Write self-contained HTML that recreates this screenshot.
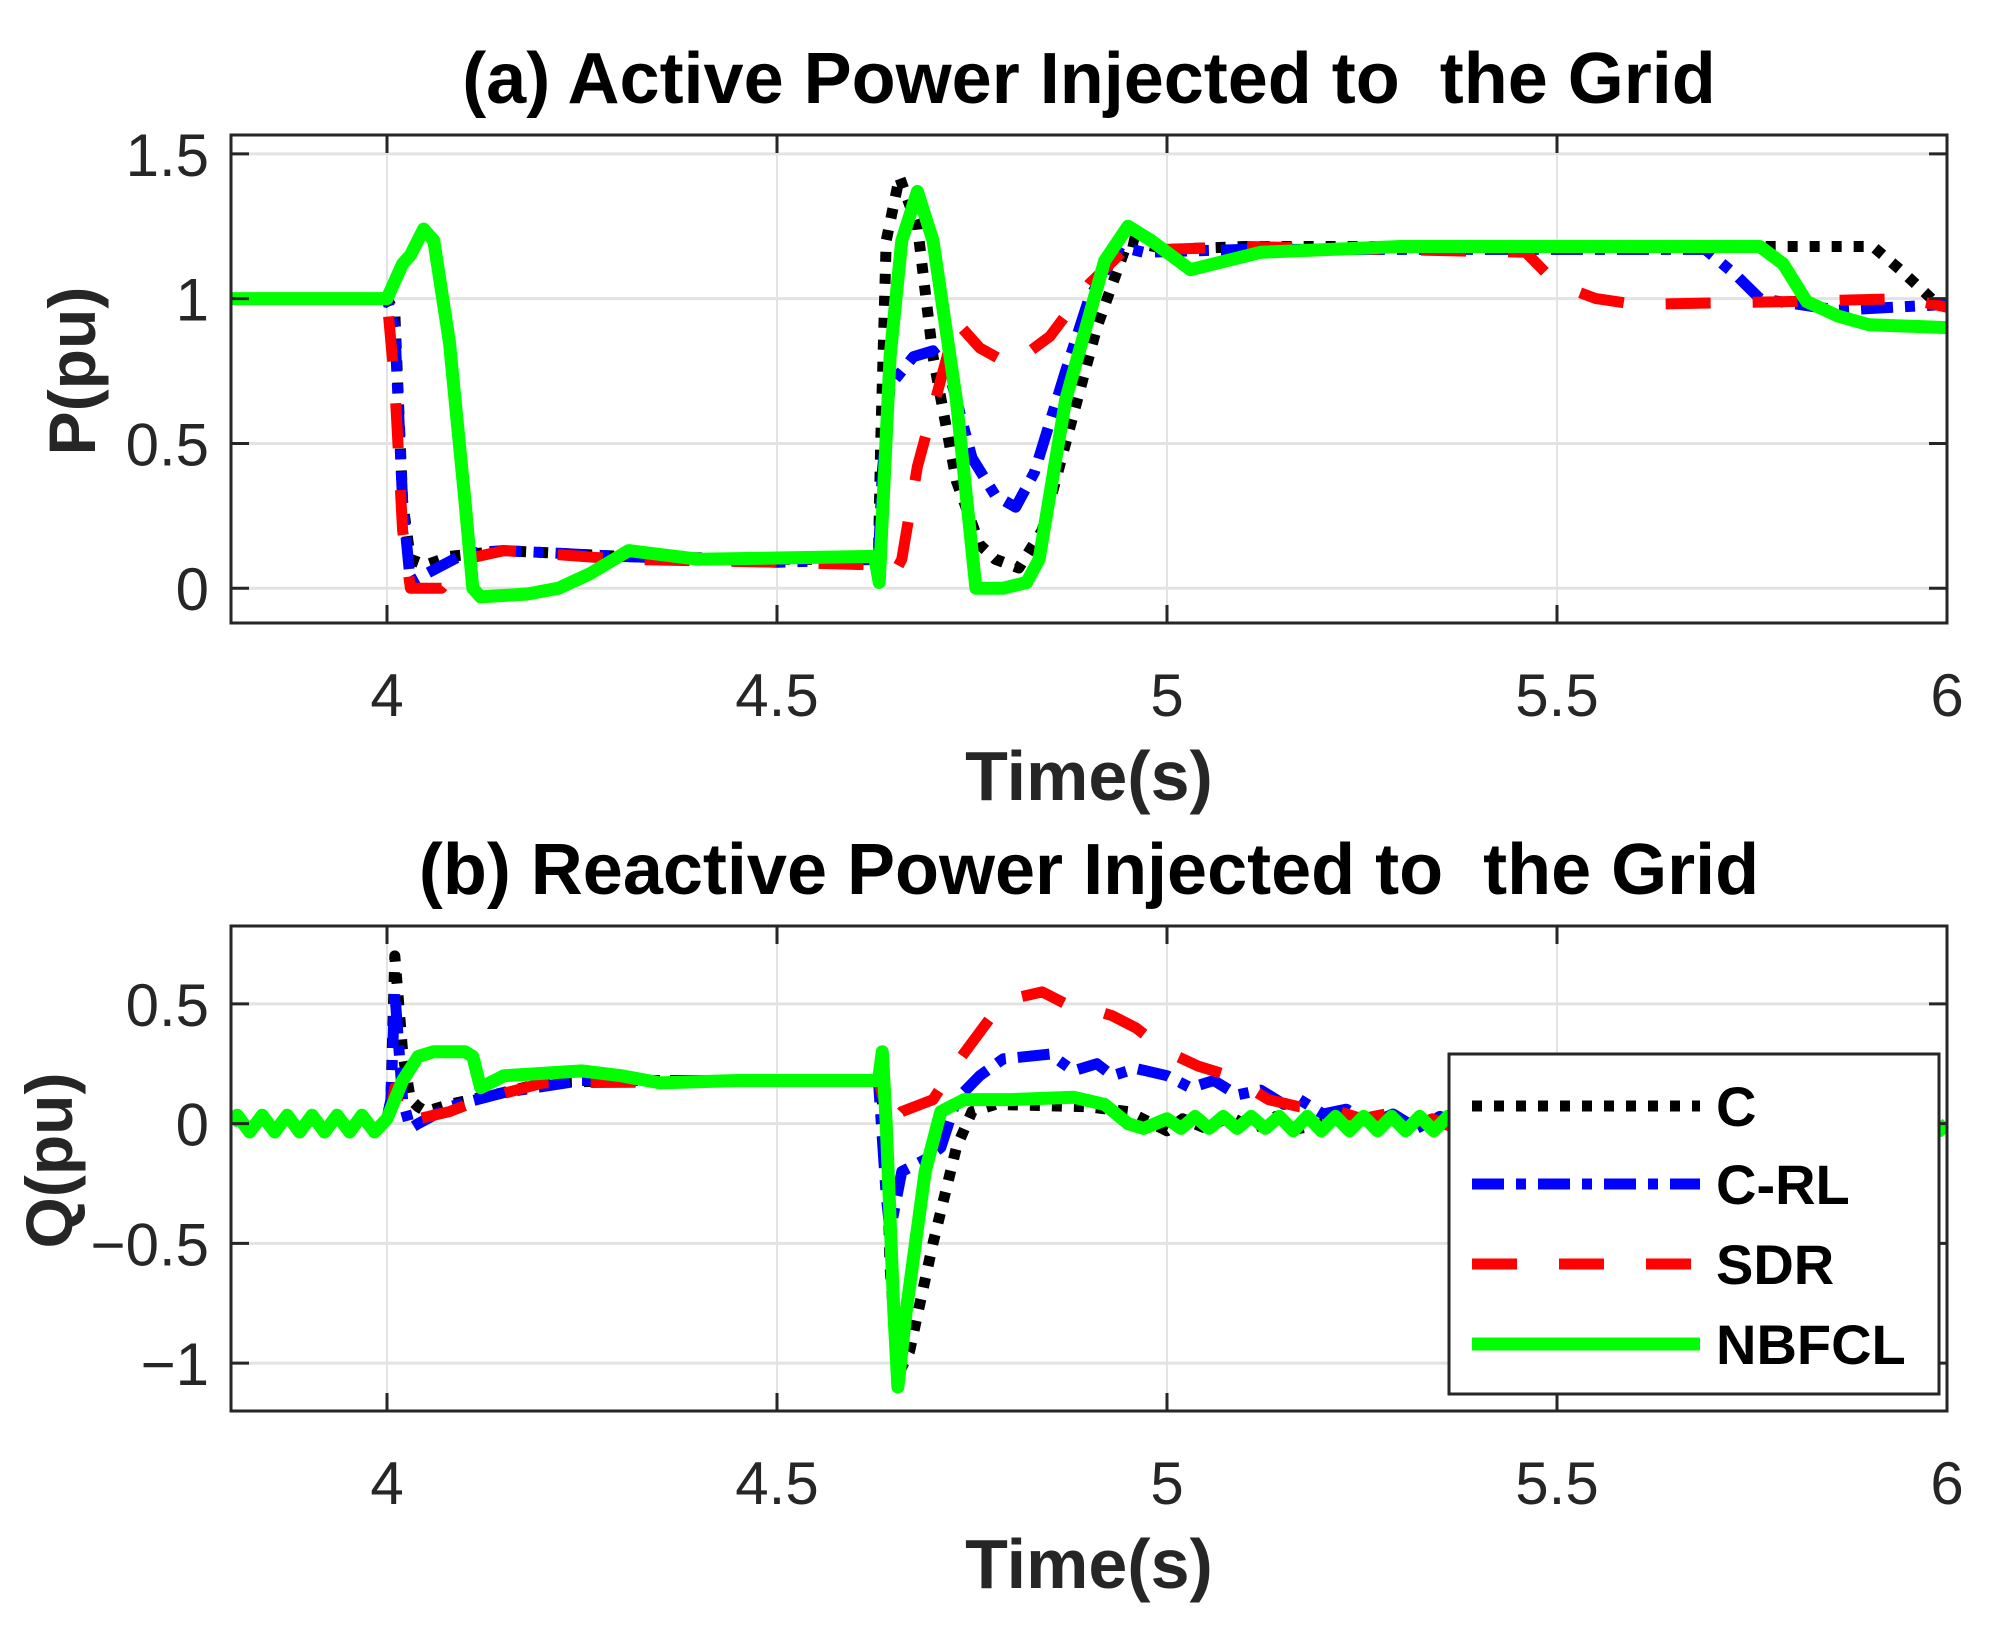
<!DOCTYPE html>
<html><head><meta charset="utf-8"><style>
html,body{margin:0;padding:0;background:#fff;}
svg{display:block;}
text{font-family:"Liberation Sans",Arial,sans-serif;}
.pre{white-space:pre;}
</style></head><body>
<svg id="chart" width="2015" height="1647" viewBox="0 0 2015 1647" xmlns="http://www.w3.org/2000/svg">
<defs>
<clipPath id="clipA"><rect x="231" y="135" width="1716" height="488"/></clipPath>
<clipPath id="clipB"><rect x="231" y="926" width="1716" height="485"/></clipPath>
</defs>
<g id="panelA"></g>
<g id="panelB"></g>
</svg>
<script>
// ---------- data ----------
const xTicks = [4, 4.5, 5, 5.5, 6];
const xTickLabels = ["4", "4.5", "5", "5.5", "6"];
const pTicks = [0, 0.5, 1, 1.5];
const pTickLabels = ["0", "0.5", "1", "1.5"];
const qTicks = [-1, -0.5, 0, 0.5];
const qTickLabels = ["\u22121", "\u22120.5", "0", "0.5"];
const seriesNames = ["C", "C-RL", "SDR", "NBFCL"];

// Panel (a) active power
const pC_t = [3.8,4.0,4.01,4.02,4.03,4.05,4.08,4.15,4.3,4.5,4.63,4.633,4.64,4.657,4.68,4.70,4.73,4.76,4.78,4.81,4.84,4.86,4.91,4.95,5.0,5.1,5.905,5.94,5.98,6.0];
const pC_v = [1,1,0.95,0.3,0.1,0.08,0.11,0.13,0.11,0.1,0.1,0.5,1.2,1.42,1.25,0.8,0.37,0.15,0.1,0.07,0.2,0.4,0.9,1.2,1.17,1.18,1.18,1.1,1.0,0.97];
const pCRL_t = [3.8,4.0,4.01,4.02,4.03,4.05,4.1,4.15,4.3,4.5,4.63,4.635,4.645,4.675,4.70,4.72,4.75,4.78,4.806,4.83,4.87,4.9,4.94,4.97,5.1,5.69,5.73,5.76,5.86,6.0];
const pCRL_v = [1,1,0.9,0.3,0.02,0.05,0.12,0.13,0.11,0.09,0.1,0.4,0.7,0.8,0.82,0.75,0.45,0.32,0.28,0.4,0.75,1.0,1.18,1.16,1.17,1.17,1.08,1.0,0.96,0.98];
const pSDR_t = [3.8,4.0,4.01,4.02,4.03,4.07,4.1,4.15,4.3,4.5,4.63,4.65,4.66,4.68,4.73,4.76,4.8,4.85,4.9,4.95,5.0,5.1,5.46,5.5,5.55,5.6,5.8,5.95,6.0];
const pSDR_v = [1,1,0.7,0.2,0.0,0.0,0.1,0.13,0.1,0.09,0.08,0.05,0.1,0.42,0.92,0.83,0.77,0.87,1.05,1.18,1.17,1.18,1.16,1.05,1.0,0.98,0.99,1.0,0.97];
const pN_t = [3.8,4.0,4.02,4.03,4.047,4.06,4.08,4.1,4.11,4.12,4.18,4.22,4.26,4.31,4.4,4.625,4.631,4.645,4.66,4.68,4.70,4.73,4.755,4.79,4.82,4.836,4.87,4.92,4.95,4.98,5.0,5.03,5.12,5.3,5.76,5.79,5.82,5.86,5.9,6.0];
const pN_v = [1,1,1.12,1.15,1.24,1.2,0.85,0.3,0.0,-0.03,-0.02,0.0,0.05,0.13,0.1,0.11,0.02,0.8,1.2,1.37,1.2,0.65,0.0,0.0,0.02,0.1,0.65,1.13,1.25,1.2,1.16,1.1,1.16,1.18,1.18,1.12,0.99,0.94,0.91,0.9];

// Panel (b) reactive power
const qPre_t = [3.8,3.808,3.824,3.84,3.856,3.872,3.888,3.904,3.92,3.936,3.952,3.968,3.984,4.0];
const qPre_v = [0,0.035,-0.035,0.035,-0.035,0.035,-0.035,0.035,-0.035,0.035,-0.035,0.035,-0.035,0.02];
const qC_t = [4.005,4.01,4.02,4.03,4.04,4.05,4.08,4.15,4.2,4.3,4.63,4.64,4.645,4.655,4.67,4.7,4.73,4.75,4.78,4.9,4.95,5.0,5.02,5.05,5.08,5.11,5.14,5.17,5.2];
const qC_v = [0.1,0.7,0.3,0.1,0.07,0.05,0.08,0.13,0.17,0.18,0.18,0.0,-0.6,-1.05,-0.95,-0.5,-0.1,0.05,0.08,0.07,0.05,-0.03,0.02,-0.02,0.03,-0.02,0.03,-0.02,0.0];
const qCRL_t = [4.005,4.01,4.02,4.03,4.04,4.08,4.15,4.25,4.63,4.64,4.645,4.66,4.69,4.71,4.73,4.76,4.79,4.85,4.88,4.91,4.93,4.96,5.0,5.03,5.06,5.09,5.12,5.15,5.17,5.2,5.23,5.26,5.29,5.32,5.35,5.38];
const qCRL_v = [0.1,0.55,0.1,-0.02,0.0,0.07,0.13,0.18,0.18,-0.3,-0.45,-0.2,-0.15,-0.1,0.1,0.2,0.27,0.29,0.22,0.25,0.2,0.23,0.2,0.15,0.18,0.12,0.14,0.08,0.1,0.04,0.06,0.0,0.04,-0.02,0.03,-0.02];
const qSDR_t = [4.005,4.01,4.02,4.04,4.08,4.12,4.2,4.63,4.645,4.66,4.7,4.73,4.78,4.8,4.84,4.87,4.9,4.93,4.96,5.0,5.04,5.08,5.13,5.17,5.21,5.25,5.28,5.31,5.34,5.37];
const qSDR_v = [0.05,0.15,0.0,0.02,0.05,0.1,0.17,0.18,0.0,0.05,0.1,0.25,0.47,0.52,0.55,0.5,0.48,0.45,0.4,0.3,0.24,0.2,0.1,0.07,0.06,0.02,0.04,-0.02,0.02,-0.02];
const qN_t = [4.02,4.04,4.06,4.1,4.11,4.12,4.15,4.25,4.3,4.35,4.45,4.63,4.635,4.64,4.65,4.655,4.665,4.69,4.71,4.74,4.8,4.88,4.92,4.95,4.97,5.0,5.018,5.036,5.054,5.072,5.09,5.108,5.126,5.144,5.162,5.18,5.198,5.216,5.234,5.252,5.27,5.288,5.306,5.324,5.342,5.36,5.378,5.396,5.414,5.432,5.45,5.468,5.486,5.504,5.522,5.54,5.558,5.576,5.594,5.612,5.63,5.648,5.666,5.684,5.702,5.72,5.738,5.756,5.774,5.792,5.81,5.828,5.846,5.864,5.882,5.9,5.918,5.936,5.954,5.972,5.99,6.0];
const qN_v = [0.18,0.28,0.3,0.3,0.28,0.15,0.2,0.22,0.2,0.17,0.18,0.18,0.3,0.0,-0.8,-1.1,-0.8,-0.2,0.05,0.1,0.1,0.11,0.08,0.0,-0.02,0.02,-0.02,0.03,-0.02,0.03,-0.02,0.03,-0.02,0.03,-0.03,0.03,-0.03,0.03,-0.03,0.03,-0.03,0.03,-0.03,0.03,-0.03,0.03,-0.03,0.03,-0.03,0.03,-0.03,0.03,-0.03,0.03,-0.03,0.03,-0.03,0.03,-0.03,0.03,-0.03,0.03,-0.03,0.03,-0.03,0.03,-0.03,0.03,-0.03,0.03,-0.03,0.03,-0.03,0.03,-0.03,0.03,-0.03,0.03,-0.03,0.03,-0.03,0.0];

// ---------- drawing ----------
const NS = "http://www.w3.org/2000/svg";
function mk(tag, attrs, parent){ const e=document.createElementNS(NS,tag); for(const k in attrs) e.setAttribute(k,attrs[k]); parent.appendChild(e); return e; }

const L=231, R=1947, XMIN=3.8, XMAX=6.0;
function xs(t){ return L + (t-XMIN)/(XMAX-XMIN)*(R-L); }

const styles = [
  {color:"#000000", dash:"10 12", w:11},
  {color:"#0000ff", dash:"32 12 10 12", w:11},
  {color:"#ff0000", dash:"45 42", w:11},
  {color:"#00ff00", dash:"none", w:13}
];

function panel(g, top, bottom, ymin, ymax, yT, yTL, series, clip, title, ylab, ylabX, ids){
  const ys = v => bottom - (v-ymin)/(ymax-ymin)*(bottom-top);
  xTicks.forEach(t=>{ if(t<XMAX){ const l=mk("line",{x1:xs(t),x2:xs(t),y1:top,y2:bottom,stroke:"#e3e3e3","stroke-width":2},g);
      }});
  yT.forEach(v=>{ const l=mk("line",{x1:L,x2:R,y1:ys(v),y2:ys(v),stroke:"#e3e3e3","stroke-width":3},g);
      });
  const sg = mk("g",{"clip-path":"url(#"+clip+")"},g);
  series.forEach((s,i)=>{
    const d = s.t.map((t,j)=>(j?"L":"M")+xs(t).toFixed(1)+","+ys(s.v[j]).toFixed(1)).join("");
    const p = mk("path",{d:d,fill:"none",stroke:styles[i].color,"stroke-width":styles[i].w,"stroke-dasharray":styles[i].dash,"stroke-linejoin":"round"},sg);
    
    
  });
  const box = mk("rect",{x:L,y:top,width:R-L,height:bottom-top,fill:"none",stroke:"#262626","stroke-width":3},g);
   
  xTicks.forEach((t,i)=>{
    mk("line",{x1:xs(t),x2:xs(t),y1:bottom,y2:bottom-18,stroke:"#262626","stroke-width":3},g);
    mk("line",{x1:xs(t),x2:xs(t),y1:top,y2:top+18,stroke:"#262626","stroke-width":3},g);
    const tx=mk("text",{x:xs(t),y:bottom+93,"font-size":60,"text-anchor":"middle",fill:"#262626"},g);
    tx.textContent=xTickLabels[i];
     
  });
  yT.forEach((v,i)=>{
    mk("line",{x1:L,x2:L+18,y1:ys(v),y2:ys(v),stroke:"#262626","stroke-width":3},g);
    mk("line",{x1:R,x2:R-18,y1:ys(v),y2:ys(v),stroke:"#262626","stroke-width":3},g);
    const tx=mk("text",{x:L-22,y:ys(v)+22,"font-size":60,"text-anchor":"end",fill:"#262626"},g);
    tx.textContent=yTL[i];
     
  });
  const tt=mk("text",{x:(L+R)/2,y:top-32,"font-size":72,"font-weight":"bold","text-anchor":"middle",fill:"#000","class":"pre"},g);
  tt.textContent=title;
   
  const xl=mk("text",{x:(L+R)/2,y:bottom+177,"font-size":70,"font-weight":"bold","text-anchor":"middle",fill:"#262626"},g);
  xl.textContent="Time(s)";
   
  const cy=(top+bottom)/2-8;
  const yl=mk("text",{x:ylabX,y:cy,"font-size":66,"font-weight":"bold","text-anchor":"middle",fill:"#262626",transform:"rotate(-90 "+ylabX+" "+cy+")"},g);
  yl.textContent=ylab;
   
}

const gA=document.getElementById("panelA"), gB=document.getElementById("panelB");
panel(gA,135,623,-0.12,1.565,pTicks,pTickLabels,[
  {t:pC_t,v:pC_v},{t:pCRL_t,v:pCRL_v},{t:pSDR_t,v:pSDR_v},{t:pN_t,v:pN_v}],
  "clipA","(a) Active Power Injected to  the Grid","P(pu)",95,["p-line-c","p-line-c-rl","p-line-sdr","p-line-nbfcl"]);
panel(gB,926,1411,-1.2,0.825,qTicks,qTickLabels,[
  {t:qPre_t.concat(qC_t),v:qPre_v.concat(qC_v)},
  {t:qPre_t.concat(qCRL_t),v:qPre_v.concat(qCRL_v)},
  {t:qPre_t.concat(qSDR_t),v:qPre_v.concat(qSDR_v)},
  {t:qPre_t.concat(qN_t),v:qPre_v.concat(qN_v)}],
  "clipB","(b) Reactive Power Injected to  the Grid","Q(pu)",72,["q-line-c","q-line-c-rl","q-line-sdr","q-line-nbfcl"]);

const lg=mk("g",{},gB);
 
mk("rect",{x:1449,y:1054,width:490,height:340,fill:"#fff",stroke:"#262626","stroke-width":3},lg);
const ly=[1106,1184,1264,1344];
seriesNames.forEach((n,i)=>{
  const e=mk("g",{},lg);
  
  
  mk("line",{x1:1472,x2:1700,y1:ly[i],y2:ly[i],stroke:styles[i].color,"stroke-width":styles[i].w,"stroke-dasharray":styles[i].dash},e);
  const tx=mk("text",{x:1716,y:ly[i]+20,"font-size":56,"font-weight":"bold",fill:"#000"},e);
  tx.textContent=n;
});
</script>
</body></html>
